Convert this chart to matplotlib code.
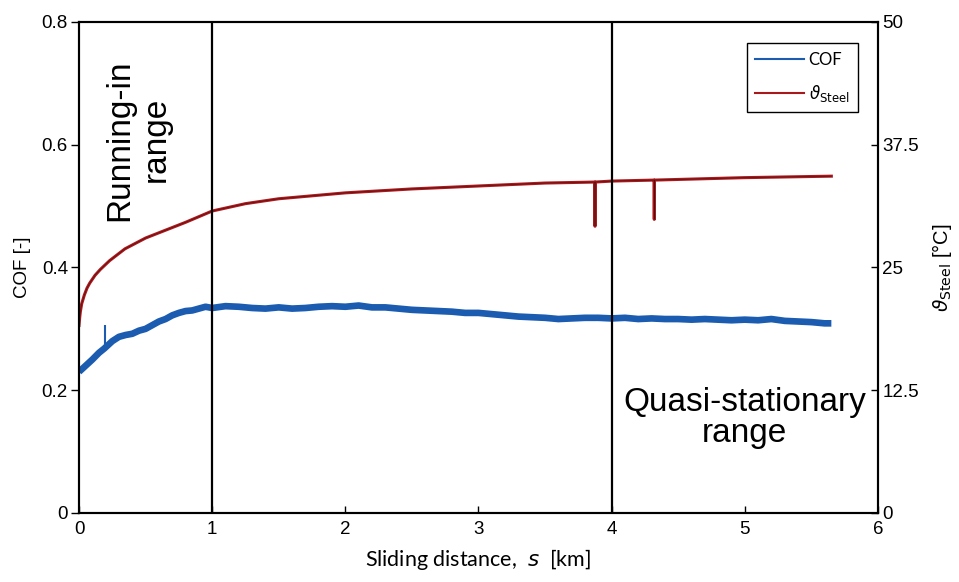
import matplotlib
matplotlib.use("Agg")
import matplotlib.pyplot as plt
from matplotlib.lines import Line2D

# sliding distance [km] and coefficient of friction
cof_x = [0.0, 0.05, 0.1, 0.15, 0.19, 0.2, 0.25, 0.3, 0.35, 0.4, 0.45, 0.5,
         0.55, 0.6, 0.65, 0.7, 0.75, 0.8, 0.85, 0.9, 0.95, 1.0,
         1.1, 1.2, 1.3, 1.4, 1.5, 1.6, 1.7, 1.8, 1.9, 2.0,
         2.1, 2.2, 2.3, 2.4, 2.5, 2.6, 2.7, 2.8, 2.9, 3.0,
         3.1, 3.2, 3.3, 3.4, 3.5, 3.6, 3.7, 3.8, 3.9, 4.0,
         4.1, 4.2, 4.3, 4.4, 4.5, 4.6, 4.7, 4.8, 4.9, 5.0,
         5.1, 5.2, 5.3, 5.4, 5.5, 5.6, 5.65]
cof_y = [0.230, 0.240, 0.250, 0.261, 0.268, 0.270, 0.280, 0.287, 0.290, 0.292, 0.297, 0.300,
         0.306, 0.312, 0.316, 0.322, 0.326, 0.329, 0.330, 0.333, 0.336, 0.334,
         0.337, 0.336, 0.334, 0.333, 0.335, 0.333, 0.334, 0.336, 0.337, 0.336,
         0.338, 0.335, 0.335, 0.333, 0.331, 0.330, 0.329, 0.328, 0.326, 0.326,
         0.324, 0.322, 0.320, 0.319, 0.318, 0.316, 0.317, 0.318, 0.318, 0.317,
         0.318, 0.316, 0.317, 0.316, 0.316, 0.315, 0.316, 0.315, 0.314, 0.315,
         0.314, 0.316, 0.313, 0.312, 0.311, 0.309, 0.309]
cof_spike_x = [0.195]
cof_spike_lo = [0.268]
cof_spike_hi = [0.306]

# steel temperature [°C]
temp_x = [0.0, 0.005, 0.01, 0.02, 0.04, 0.06, 0.08, 0.12, 0.16, 0.23, 0.345, 0.5,
          0.65, 0.8, 1.0, 1.25, 1.5, 2.0, 2.5, 3.0, 3.5, 3.874, 3.875, 3.876, 4.0,
          4.319, 4.32, 4.321, 5.0, 5.65]
temp_y = [19.1, 19.9, 20.5, 21.3, 22.2, 22.9, 23.4, 24.2, 24.8, 25.7, 26.9, 28.0,
          28.8, 29.6, 30.75, 31.5, 32.0, 32.6, 33.0, 33.3, 33.6, 33.7, 29.2, 33.7, 33.8,
          33.9, 29.9, 33.9, 34.15, 34.3]

range_bounds = [1, 4]
x_ticks = [0, 1, 2, 3, 4, 5, 6]
cof_ticks = [0, 0.2, 0.4, 0.6, 0.8]
temp_ticks = [0, 12.5, 25, 37.5, 50]
temp_labels = ["0", "12.5", "25", "37.5", "50"]

blue = "#1b5cb0"
red = "#a8191c"
arial = "Liberation Sans"
humanist = "Lato"

fig = plt.figure(figsize=(9.59, 5.82), dpi=100)
ax = fig.add_axes([0.0824, 0.1186, 0.8331, 0.8436])
ax2 = ax.twinx()

ax.plot(cof_x, cof_y, color=blue, lw=4.8, solid_capstyle="butt")
ax.vlines(cof_spike_x, cof_spike_lo, cof_spike_hi, color=blue, lw=1.5)
ax2.plot(temp_x, temp_y, color=red, lw=2.2)
ax2.plot(temp_x, temp_y, color="black", lw=0.4, alpha=0.5)

for b in range_bounds:
    ax2.axvline(b, color="black", lw=1.6)

ax.set_xlim(0, 6)
ax.set_ylim(0, 0.8)
ax2.set_ylim(0, 50)
ax.set_xticks(x_ticks)
ax.set_yticks(cof_ticks)
ax.set_yticklabels([str(t) for t in cof_ticks])
ax2.set_yticks(temp_ticks)
ax2.set_yticklabels(temp_labels)

ax.tick_params(axis="x", direction="in", length=5, width=1, labelsize=13.5, pad=6)
ax.tick_params(axis="y", direction="out", length=6, width=1, labelsize=13.5, pad=2)
ax2.tick_params(axis="y", direction="in", length=5, width=1, labelsize=13.5, pad=3)
for lab in ax.get_xticklabels() + ax.get_yticklabels() + ax2.get_yticklabels():
    lab.set_family(arial)
for a in (ax, ax2):
    for s in a.spines.values():
        s.set_linewidth(1.5)

ax.set_xlabel("Sliding distance,  $s$  [km]", family=humanist, size=15.5, labelpad=6)
ax.set_ylabel("COF [-]", family=arial, size=13.5, labelpad=8)
ax2.set_ylabel(r"$\vartheta_{\mathrm{Steel}}$ [°C]", family=arial, size=14.5, labelpad=8)

ax.text(0.443, 0.608, "Running-in\nrange", rotation=90, ha="center", va="center",
        family=arial, size=24, multialignment="center")
ax.text(5.0, 0.155, "Quasi-stationary\nrange", ha="center", va="center",
        family=arial, size=24, multialignment="center", linespacing=1.0)

handles = [Line2D([], [], color=blue, lw=1.5),
           Line2D([], [], color=red, lw=1.5)]
leg = ax2.legend(handles, ["COF", r"$\vartheta_{\mathrm{Steel}}$"],
                 loc="upper right", bbox_to_anchor=(0.985, 0.9735),
                 fancybox=False, edgecolor="black", framealpha=1,
                 prop={"family": humanist, "size": 12}, handlelength=2.9,
                 borderpad=0.5, labelspacing=0.9, handletextpad=0.3)
leg.get_frame().set_linewidth(1.0)

fig.savefig("out.png", dpi=100)
